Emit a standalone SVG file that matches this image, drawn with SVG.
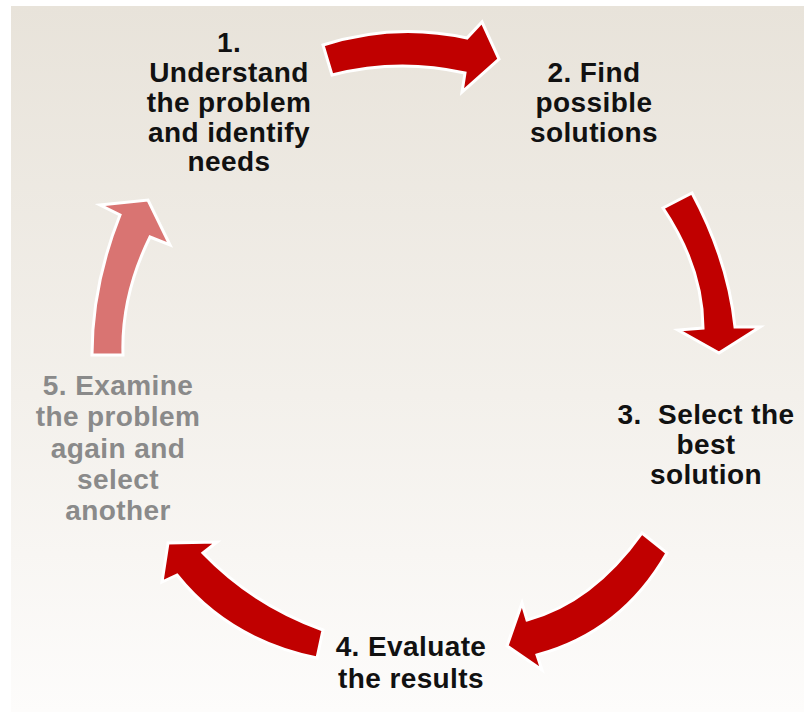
<svg xmlns="http://www.w3.org/2000/svg" width="804" height="712" viewBox="0 0 804 712">
<defs>
<linearGradient id="bg" x1="0" y1="0" x2="0" y2="1">
<stop offset="0" stop-color="#e8e3da"/>
<stop offset="0.55" stop-color="#f3f0eb"/>
<stop offset="1" stop-color="#fdfcfb"/>
</linearGradient>
<style>
.lbl{font-family:"Liberation Sans",Arial,sans-serif;font-weight:bold;font-size:28px;letter-spacing:0.4px;text-anchor:middle;fill:#111}
.dim{fill:#8a8a8a}
.arr{fill:#c00000;stroke:#ffffff;stroke-width:3;stroke-linejoin:miter}
.arr.light{fill:#d97472}
</style>
</defs>
<rect x="0" y="0" width="804" height="712" fill="#ffffff"/>
<rect x="11" y="6" width="793" height="706" fill="url(#bg)"/>
<g id="connectors">
<path id="a12" class="arr" d="M323,45 Q395,22 467,38 L482,22 L499,59 L462,92 L465,73 Q398,58 332,75 Z"/>
<path id="a23" class="arr" d="M663,208 L692,193 Q728,260 735,327 L760,327 L719,353 L678,330 L703,328 Q703,268 663,208 Z"/>
<path id="a34" class="arr" d="M642,533 L667,553 Q622,632 537,655 L542,670 L507,646 L522,603 L527,620 Q592,603 642,533 Z"/>
<path id="a45" class="arr" d="M323,630 L317,658 Q229,640 177,575 L162,582 L168,543 L217,542 L203,553 Q253,605 323,630 Z"/>
<path id="a51" class="arr light" d="M92,355 L123,355 Q121,296 150,237 L170,245 L148,200 L100,205 L120,215 Q92,285 92,355 Z"/>
</g>
<g id="node1">
<text class="lbl" x="229" y="52">1.</text>
<text class="lbl" x="229" y="82">Understand</text>
<text class="lbl" x="229" y="112">the problem</text>
<text class="lbl" x="229" y="142">and identify</text>
<text class="lbl" x="229" y="171">needs</text>
</g>
<g id="node2">
<text class="lbl" x="594" y="82">2. Find</text>
<text class="lbl" x="594" y="112">possible</text>
<text class="lbl" x="594" y="142">solutions</text>
</g>
<g id="node3">
<text class="lbl" x="706" y="424" xml:space="preserve">3.  Select the</text>
<text class="lbl" x="706" y="454">best</text>
<text class="lbl" x="706" y="484">solution</text>
</g>
<g id="node4">
<text class="lbl" x="411" y="656">4. Evaluate</text>
<text class="lbl" x="411" y="688">the results</text>
</g>
<g id="node5">
<text class="lbl dim" x="118" y="395">5. Examine</text>
<text class="lbl dim" x="118" y="426">the problem</text>
<text class="lbl dim" x="118" y="458">again and</text>
<text class="lbl dim" x="118" y="489">select</text>
<text class="lbl dim" x="118" y="520">another</text>
</g>
</svg>
